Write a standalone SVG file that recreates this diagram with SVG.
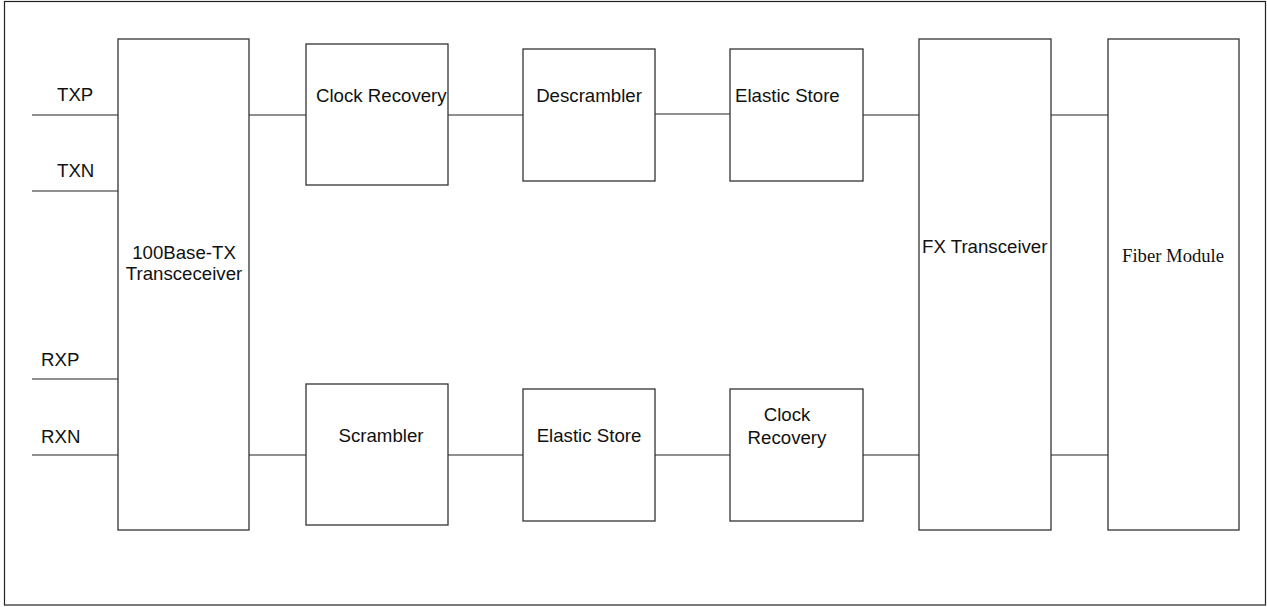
<svg xmlns="http://www.w3.org/2000/svg" width="1267" height="607" viewBox="0 0 1267 607">
<style>
.box{fill:#fff;stroke:#333;stroke-width:1.3}
.ln{stroke:#222;stroke-width:1.1;fill:none}
.t{font-family:"Liberation Sans",Arial,sans-serif;font-size:18.67px;fill:#111}
.s{font-family:"Liberation Serif","Times New Roman",serif;font-size:18.67px;fill:#111}
</style>
<rect x="4.5" y="1.5" width="1261" height="603.5" fill="#fff" stroke="#222" stroke-width="1.2"/>
<g id="connectors">
<line class="ln" x1="32" y1="115" x2="118" y2="115"/>
<line class="ln" x1="32" y1="191" x2="118" y2="191"/>
<line class="ln" x1="32" y1="379" x2="118" y2="379"/>
<line class="ln" x1="32" y1="455" x2="118" y2="455"/>
<line class="ln" x1="249" y1="115" x2="306" y2="115"/>
<line class="ln" x1="448" y1="115" x2="523" y2="115"/>
<line class="ln" x1="655" y1="114" x2="730" y2="114"/>
<line class="ln" x1="863" y1="115" x2="919" y2="115"/>
<line class="ln" x1="1051" y1="115" x2="1108" y2="115"/>
<line class="ln" x1="249" y1="455" x2="306" y2="455"/>
<line class="ln" x1="448" y1="455" x2="523" y2="455"/>
<line class="ln" x1="655" y1="455" x2="730" y2="455"/>
<line class="ln" x1="863" y1="455" x2="919" y2="455"/>
<line class="ln" x1="1051" y1="455" x2="1108" y2="455"/>
</g>
<g id="pins">
<text class="t" x="57" y="101">TXP</text>
<text class="t" x="57" y="177">TXN</text>
<text class="t" x="41" y="366">RXP</text>
<text class="t" x="41" y="443">RXN</text>
</g>
<g id="tx100">
<rect class="box" x="118" y="39" width="131" height="491"/>
<text class="t" x="184" y="259" text-anchor="middle">100Base-TX</text>
<text class="t" x="184" y="280" text-anchor="middle">Transceceiver</text>
</g>
<g id="clock-recovery-top">
<rect class="box" x="306" y="44" width="142" height="141"/>
<text class="t" x="316" y="102">Clock Recovery</text>
</g>
<g id="descrambler">
<rect class="box" x="523" y="49" width="132" height="132"/>
<text class="t" x="589" y="102" text-anchor="middle">Descrambler</text>
</g>
<g id="elastic-store-top">
<rect class="box" x="730" y="49" width="133" height="132"/>
<text class="t" x="735" y="102">Elastic Store</text>
</g>
<g id="fx-transceiver">
<rect class="box" x="919" y="39" width="132" height="491"/>
<text class="t" x="922" y="253">FX Transceiver</text>
</g>
<g id="fiber-module">
<rect class="box" x="1108" y="39" width="131" height="491"/>
<text class="s" x="1122" y="262">Fiber Module</text>
</g>
<g id="scrambler">
<rect class="box" x="306" y="384" width="142" height="141"/>
<text class="t" x="381" y="442" text-anchor="middle">Scrambler</text>
</g>
<g id="elastic-store-bottom">
<rect class="box" x="523" y="389" width="132" height="132"/>
<text class="t" x="589" y="442" text-anchor="middle">Elastic Store</text>
</g>
<g id="clock-recovery-bottom">
<rect class="box" x="730" y="389" width="133" height="132"/>
<text class="t" x="787" y="421" text-anchor="middle">Clock</text>
<text class="t" x="787" y="444" text-anchor="middle">Recovery</text>
</g>
</svg>
